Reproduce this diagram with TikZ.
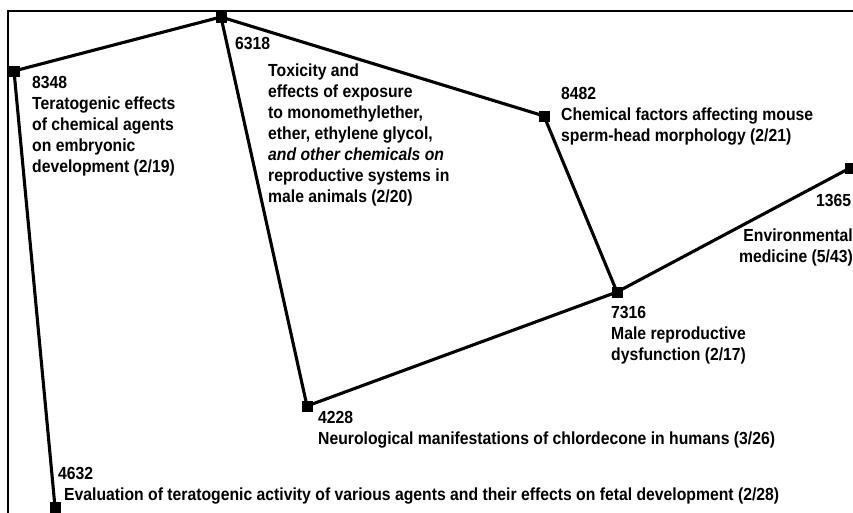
\documentclass[tikz,border=0pt]{standalone}
\usepackage{fontspec}
\setmainfont{Liberation Sans}[FakeStretch=0.9]
\begin{document}
\begin{tikzpicture}[x=1pt,y=-1pt,
  doc/.style={draw=black,fill=black,minimum size=10.5pt,inner sep=0pt,rectangle},
  link/.style={line width=3.1pt,black},
  lbl/.style={inner sep=0pt,anchor=north west,align=left,font=\fontsize{17.5}{20.9}\selectfont\bfseries},
  lblr/.style={inner sep=0pt,anchor=north east,align=right,font=\fontsize{17.5}{20.9}\selectfont\bfseries}]
\useasboundingbox (0,0) rectangle (853,513);
\clip (0,0) rectangle (853,513);
% frame
\coordinate (fc) at (8,11);
\coordinate (fr) at (860,11);
\coordinate (fb) at (8,520);
\draw[line width=2.8pt] (fr) -- (fc) -- (fb);
% documents
\node[doc] (n8348) at (14,71) {};
\node[doc] (n6318) at (221,17) {};
\node[doc] (n8482) at (544,116) {};
\node[doc] (n1365) at (850,168) {};
\node[doc] (n7316) at (617,292) {};
\node[doc] (n4228) at (307,406) {};
\node[doc] (n4632) at (55,507) {};
% links
\draw[link] (n8348.center) -- (n6318.center);
\draw[link] (n6318.center) -- (n8482.center);
\draw[link] (n6318.center) -- (n4228.center);
\draw[link] (n8482.center) -- (n7316.center);
\draw[link] (n7316.center) -- (n1365.center);
\draw[link] (n4228.center) -- (n7316.center);
\draw[link] (n8348.center) -- (n4632.center);
% labels
\node[lbl] (t8348) at (32,76) {8348\\Teratogenic effects\\of chemical agents\\on embryonic\\development (2/19)};
\node[lbl] (k6318) at (235,37) {6318};
\node[lbl] (t6318) at (268,64) {Toxicity and\\effects of exposure\\to monomethylether,\\ether, ethylene glycol,\\\textit{and other chemicals on}\\reproductive systems in\\male animals (2/20)};
\node[lbl] (t8482) at (561,87) {8482\\Chemical factors affecting mouse\\sperm-head morphology (2/21)};
\node[lbl] (k1365) at (816,194) {1365};
\node[lblr] (t1365) at (853,229) {Environmental\\medicine (5/43)};
\node[lbl] (t7316) at (611,306) {7316\\Male reproductive\\dysfunction (2/17)};
\node[lbl] (t4228) at (318,411) {4228\\Neurological manifestations of chlordecone in humans (3/26)};
\node[lbl] (k4632) at (58,467) {4632};
\node[lbl] (t4632) at (64,488) {Evaluation of teratogenic activity of various agents and their effects on fetal development (2/28)};
\end{tikzpicture}
\end{document}
